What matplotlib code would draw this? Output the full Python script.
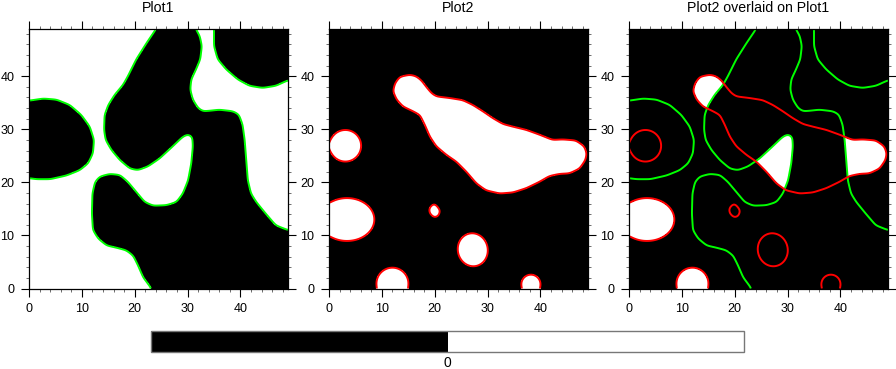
import numpy as np
import matplotlib
matplotlib.use("Agg")
import matplotlib.pyplot as plt
from matplotlib.path import Path
from matplotlib.ticker import MultipleLocator

plt.rcParams['font.family'] = ['Liberation Sans', 'DejaVu Sans']

# ---------------- data ----------------
titles = ["Plot1", "Plot2", "Plot2 overlaid on Plot1"]
axis_max = 49
major_ticks = [0, 10, 20, 30, 40]
cbar_label = ["0"]

# Plot1: outlines of the regions below 0 (black)
p1_left_x = [-2, 0, 2.7, 5.2, 7.7, 9.9, 11.5, 12.3, 12.1, 11.2, 9.6, 7.1, 4.0, 1.4, 0, -2]
p1_left_y = [35.2, 35.4, 35.8, 35.6, 34.6, 32.7, 30.5, 28.0, 25.5, 23.6, 22.3, 21.3, 20.6, 20.6, 20.8, 21.0]

p1_main_x = [25.4, 24.1, 22.2, 20.3, 18.7, 17.8, 16.2, 15.0, 14.3, 14.2, 14.5, 15.6, 17.2, 19.1, 20.6,
             22.5, 24.7, 27.2, 29.1, 30.1, 30.9, 31.0, 30.7, 30.1, 29.1, 27.9, 26.0, 23.5, 21.9, 20.3,
             18.7, 17.2, 15.3, 13.4, 12.5, 12.0, 11.9, 12.1, 13.1, 14.7, 16.5, 18.4, 19.7, 20.6, 21.6,
             23.1, 24.5, 52, 52, 49, 46.7, 44.8, 43.0, 42.0, 41.4, 41.1, 40.8, 40.4, 39.7, 38.6,
             36.0, 34.2, 32.9, 32.0, 31.0, 30.5, 30.7, 31.6, 32.4, 32.7, 32.3, 31.5, 30.6]
p1_main_y = [51, 49.0, 46.2, 43.2, 40.0, 38.4, 36.5, 34.6, 32.7, 29.9, 28.0, 26.1, 24.2, 22.6, 22.3,
             23.0, 24.5, 26.8, 28.6, 29.1, 28.6, 26.8, 23.6, 20.4, 17.9, 16.3, 15.7, 15.6, 16.3, 18.2,
             20.1, 21.4, 21.6, 21.1, 20.1, 17.9, 14.1, 11.0, 9.4, 8.1, 7.7, 7.2, 6.2, 4.4, 2.1,
             0.1, -2, -2, 9.8, 11.0, 11.9, 14.1, 16.3, 17.9, 20.4, 24.2, 28.0, 30.9, 32.8, 33.4,
             33.7, 33.5, 33.4, 34.0, 35.6, 37.5, 39.4, 41.3, 43.2, 45.7, 47.6, 49.0, 51]

p1_top_x = [35.0, 35.0, 35.0, 35.7, 37.3, 39.5, 41.7, 44.2, 46.7, 48.9, 51, 51]
p1_top_y = [51, 49, 45.7, 43.2, 41.3, 39.4, 38.2, 37.8, 38.2, 39.2, 40.3, 51]

# Plot2: outlines of the regions above 0 (white)
p2_big_x = [15.3, 13.4, 12.5, 12.1, 12.8, 14.0, 15.9, 17.2, 18.1, 19.1, 20.3, 22.2, 24.1, 26.0, 27.9,
            29.7, 32.3, 34.8, 37.3, 39.8, 41.7, 43.6, 45.5, 47.4, 48.5, 48.7, 48.3, 46.7, 44.2, 42.3,
            39.8, 37.3, 34.8, 32.9, 31.0, 29.1, 27.2, 25.3, 22.8, 20.3, 19.4, 18.4, 17.5, 16.5]
p2_big_y = [40.3, 39.9, 38.7, 37.2, 35.6, 34.3, 33.4, 32.7, 30.9, 28.6, 26.8, 25.2, 23.9, 22.0, 19.8,
            18.5, 17.9, 18.1, 18.9, 20.1, 21.2, 21.6, 21.7, 22.6, 24.2, 25.5, 26.8, 27.9, 28.1, 28.0,
            29.0, 29.9, 30.5, 31.0, 32.1, 33.4, 34.6, 35.5, 35.9, 36.2, 36.8, 38.0, 39.2, 40.0]

p2_dot_x = [19.9, 21.1, 20.7, 19.9, 19.0, 18.9]
p2_dot_y = [16.2, 14.7, 13.6, 13.3, 14.2, 15.1]

# Plot2: elliptic white blobs (centre, half widths, tilt in degrees)
ell_cx = [3.1, 3.4, 12.0, 38.2, 27.2]
ell_cy = [26.9, 13.0, 0.9, 0.8, 7.3]
ell_rx = [3.0, 5.2, 3.05, 1.85, 3.15]
ell_ry = [3.0, 4.05, 3.05, 1.85, 2.85]
ell_ang = [0, 0, 0, 0, 102]

# ---------------- build the fields ----------------
gx = np.linspace(0, axis_max, 246)
X, Y = np.meshgrid(gx, gx)
PX, PY = X.ravel(), Y.ravel()


def signed_dist(xs, ys):
    xs = np.asarray(xs, float)
    ys = np.asarray(ys, float)
    ax_, ay_ = xs, ys
    bx_, by_ = np.roll(xs, -1), np.roll(ys, -1)
    dx, dy = bx_ - ax_, by_ - ay_
    t = ((PX[:, None] - ax_) * dx + (PY[:, None] - ay_) * dy) / (dx * dx + dy * dy)
    t = np.clip(t, 0, 1)
    d = np.hypot(PX[:, None] - (ax_ + t * dx), PY[:, None] - (ay_ + t * dy)).min(axis=1)
    inside = Path(np.column_stack([xs, ys])).contains_points(np.column_stack([PX, PY]))
    return np.where(inside, d, -d).reshape(X.shape)


def ellipse_dist(cx, cy, rx, ry, ang):
    a = np.deg2rad(ang)
    u = (X - cx) * np.cos(a) + (Y - cy) * np.sin(a)
    v = -(X - cx) * np.sin(a) + (Y - cy) * np.cos(a)
    r = np.sqrt((u / rx) ** 2 + (v / ry) ** 2)
    return (1 - r) * min(rx, ry)


def blur(F, s=2.0):
    n = int(3 * s)
    k = np.exp(-0.5 * (np.arange(-n, n + 1) / s) ** 2)
    k /= k.sum()
    G = np.pad(F, n, mode='edge')
    G = np.apply_along_axis(lambda r: np.convolve(r, k, mode='valid'), 0, G)
    G = np.apply_along_axis(lambda r: np.convolve(r, k, mode='valid'), 1, G)
    return G


black1 = np.max([signed_dist(p1_left_x, p1_left_y),
                 signed_dist(p1_main_x, p1_main_y),
                 signed_dist(p1_top_x, p1_top_y)], axis=0)
F1 = blur(-black1)

white2 = [signed_dist(p2_big_x, p2_big_y), signed_dist(p2_dot_x, p2_dot_y)]
for i in range(len(ell_cx)):
    white2.append(ellipse_dist(ell_cx[i], ell_cy[i], ell_rx[i], ell_ry[i], ell_ang[i]))
F2 = blur(np.max(white2, axis=0))

# ---------------- drawing ----------------
W, H = 896, 369
fig = plt.figure(figsize=(W / 100, H / 100), dpi=100)

lefts = [29, 329, 629]
aw, ah = 259, 260
top = 28.5
levels = [-100, 0, 100]
green = '#00ff00'
red = '#ff0000'

axes = []
for i, l in enumerate(lefts):
    ax = fig.add_axes([l / W, (H - top - ah) / H, aw / W, ah / H])
    axes.append(ax)
    ax.set_xlim(0, axis_max)
    ax.set_ylim(0, axis_max)
    ax.set_xticks(major_ticks)
    ax.set_yticks(major_ticks)
    ax.xaxis.set_minor_locator(MultipleLocator(2))
    ax.yaxis.set_minor_locator(MultipleLocator(2))
    ax.tick_params(which='both', direction='out', top=True, right=True,
                   labeltop=False, labelright=False)
    ax.tick_params(which='major', length=5.5, width=0.8, labelsize=9, pad=5)
    ax.tick_params(which='minor', length=2.5, width=0.6, color='#555555')
    for sp in ax.spines.values():
        sp.set_linewidth(0.9)
    ax.set_title(titles[i], fontsize=10.2, pad=12)

cf1 = axes[0].contourf(X, Y, F1, levels=levels, colors=['black', 'white'])
axes[0].contour(X, Y, F1, levels=[0], colors=green, linewidths=1.4)

axes[1].contourf(X, Y, F2, levels=levels, colors=['black', 'white'])
axes[1].contour(X, Y, F2, levels=[0], colors=red, linewidths=1.4)

axes[2].contourf(X, Y, F1, levels=levels, colors=['black', 'white'])
axes[2].contourf(X, Y, F2, levels=[-100, 0], colors=['black'])
axes[2].contour(X, Y, F1, levels=[0], colors=green, linewidths=1.4)
axes[2].contour(X, Y, F2, levels=[0], colors=red, linewidths=1.4)

cax = fig.add_axes([151 / W, (H - 352) / H, 593 / W, 21 / H])
cb = fig.colorbar(cf1, cax=cax, orientation='horizontal', ticks=[0])
cb.set_ticklabels(cbar_label)
cb.outline.set_edgecolor('#777777')
cb.outline.set_linewidth(1.0)
cb.ax.tick_params(length=0, labelsize=10, pad=3)

fig.savefig('out.png', dpi=100)
